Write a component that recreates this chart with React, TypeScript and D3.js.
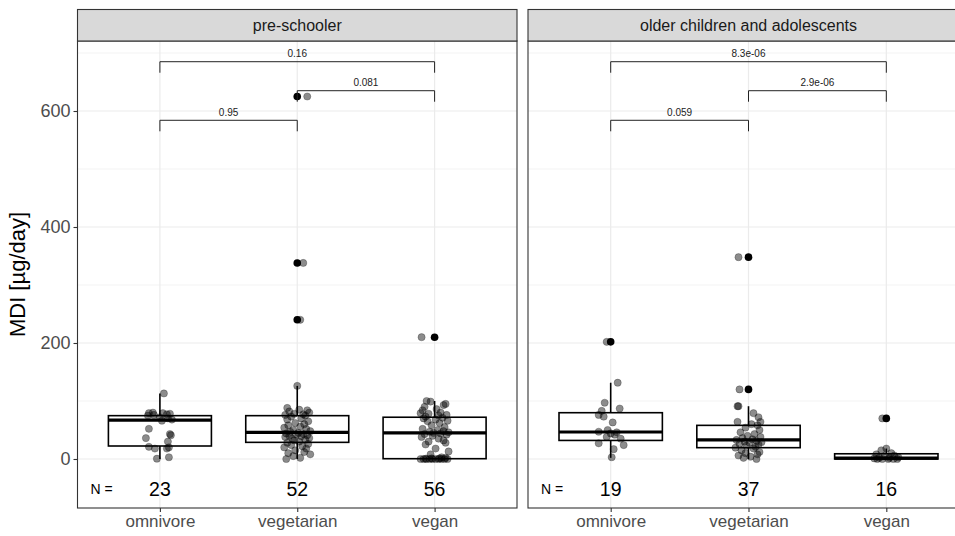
import React, { useEffect, useRef } from "react";
import * as d3 from "d3";

const facets = ["pre-schooler", "older children and adolescents"];
const categories = ["omnivore", "vegetarian", "vegan"];
const counts = [
  [23, 52, 56],
  [19, 37, 16],
];
const yTicks = [0, 200, 400, 600];
const yMinor = [100, 300, 500, 700];

// box stats: [lower whisker, q1, median, q3, upper whisker]
const boxPre = [
  [0, 22.4, 67, 74.7, 113],
  [0, 28.7, 46, 74.7, 126],
  [0, 0.5, 45, 72, 100],
];
const boxOlder = [
  [2, 32, 46.5, 79.8, 131.5],
  [0, 19.5, 32.8, 58, 91],
  [0, 0, 1.5, 9, 18],
];
const outliersPre = [[], [240, 338, 625], [210]];
const outliersOlder = [[202], [120, 348], [70]];

// jittered observations: [value, horizontal jitter in px]
const preOmnivore = [
  [113, 4], [80, -7], [79, -11], [76, -6], [79, 3], [77, 7], [72, 0], [70, 8],
  [68, 12], [75, -12], [66, 2], [78, 10], [52, -11], [43, 10], [36, -14], [41, 11],
  [30, 8], [21, -11], [18, -5], [18, 7], [20, 9], [3, 9], [0.5, -3],
];
const preVegetarian = [
  [625, 10], [338, 6], [240, 3], [126, 0], [88, -10], [85, 2], [84, 10], [82, -8],
  [80, 12], [78, -3], [77, 6], [76, -12], [75, 8],
  [73, -6], [70, 4], [68, -10], [65, 11], [62, -2], [60, 7], [58, -9], [56, 3],
  [54, -13], [52, 9], [50, -4], [48, 13], [47, -7],
  [45, 1], [44, -11], [43, 6], [42, -1], [41, 10], [40, -8], [39, 4], [38, -12],
  [36, 12], [35, -5], [33, 8], [32, -3], [30, 2],
  [28, -10], [26, 11], [24, -6], [22, 5], [20, -13], [18, 9], [15, -2], [12, 7],
  [10, -9], [8, 13], [5, -4], [2, 3], [0, -11],
];
const preVegan = [
  [210, -13], [100, -8], [99, -4], [95, 11], [93, 9], [90, -10], [86, 2], [84, -12],
  [80, 6], [79, -14], [78, -6], [76, 12], [75, 4], [73, -9],
  [71, 8], [70, -11], [68, 1], [66, 13], [65, -7], [62, 5], [58, -3], [55, 10],
  [52, -12], [50, 3], [48, 9], [47, -5], [46, 14], [45, -1],
  [44, 6], [43, -10], [42, 12], [40, -2], [38, -13], [35, 4], [32, 9], [30, -6],
  [28, 11], [25, -9], [18, 1], [13, 14], [8, -4], [3, 7],
  [0, -14], [0, -11], [0, -8], [0, -5], [0, -2], [0, 1], [0, 4], [0, 7],
  [0, 10], [0, 13], [0.5, -9], [1, 5], [1, -3], [2, 11],
];
const olderOmnivore = [
  [202, -4], [131.5, 7], [97, -6], [87, 9], [83, -9], [76, -12], [73, -7], [63, 2],
  [50, -3], [47, -12], [46, 6], [44, 0], [42, 4], [38, -4], [35, 10], [27, -12],
  [24, 13], [17, 3], [3, 1],
];
const olderVegetarian = [
  [348, -10], [120, -9], [91, -11], [91, -10], [79, 5], [72, 10], [64, 12], [64, -11],
  [60, 3], [58, 9], [54, -3], [50, 11], [46, -8], [43, 6], [40, -1], [38, 12],
  [36, -6], [34, 4], [32.8, -12], [31, 8], [30, -4], [29, 13], [28, 1], [26, -9],
  [25, 10], [23, -2], [21, 7], [19.5, -13], [18, 5], [15, -7], [12, 11], [10, -3],
  [8, 9], [6, -10], [4, 2], [2, -5], [0, 8],
];
const olderVegan = [
  [70, -4], [18, 0], [15, -5], [10, 5], [8, -10], [6, 8], [5, -2], [3, 12],
  [2, -7], [2, 3], [1, -12], [0, -9], [0, -4], [0, 2], [0, 7], [0, 11],
];

const comparisons = [[0, 1], [1, 2], [0, 2]];
const pValuesPre = ["0.95", "0.081", "0.16"];
const pValuesOlder = ["0.059", "2.9e-06", "8.3e-06"];

const points = [
  [preOmnivore, preVegetarian, preVegan],
  [olderOmnivore, olderVegetarian, olderVegan],
];
const boxes = [boxPre, boxOlder];
const outliers = [outliersPre, outliersOlder];
const pValues = [pValuesPre, pValuesOlder];

const FONT = "'Liberation Sans', Arial, Helvetica, sans-serif";

export default function App() {
  const ref = useRef<SVGSVGElement>(null);

  useEffect(() => {
    const svg = d3.select(ref.current);
    svg.selectAll("*").remove();

    const top = 41,
      bottom = 508,
      stripTop = 9.5;
    const panels = [
      [77.5, 517],
      [528, 969],
    ];

    const y = d3.scaleLinear().domain([-84.5, 720.7]).range([bottom, top]);
    const bracketY = [584, 635, 685];
    const tickLen = 19;

    panels.forEach(([x0, x1], f) => {
      const x = d3.scalePoint().domain(categories).range([x0, x1]).padding(0.6);
      const g = svg.append("g");

      g.append("rect")
        .attr("x", x0).attr("y", top)
        .attr("width", x1 - x0).attr("height", bottom - top)
        .attr("fill", "white");

      // grid
      g.selectAll(".minor")
        .data(yMinor)
        .enter()
        .append("line")
        .attr("x1", x0).attr("x2", x1)
        .attr("y1", (d) => y(d)).attr("y2", (d) => y(d))
        .attr("stroke", "#ebebeb").attr("stroke-width", 0.6);
      g.selectAll(".major")
        .data(yTicks)
        .enter()
        .append("line")
        .attr("x1", x0).attr("x2", x1)
        .attr("y1", (d) => y(d)).attr("y2", (d) => y(d))
        .attr("stroke", "#ebebeb").attr("stroke-width", 1.2);
      g.selectAll(".vmajor")
        .data(categories)
        .enter()
        .append("line")
        .attr("x1", (d) => x(d)!).attr("x2", (d) => x(d)!)
        .attr("y1", top).attr("y2", bottom)
        .attr("stroke", "#ebebeb").attr("stroke-width", 1.2);

      const bw = x.step() * 0.75;

      // boxplots
      categories.forEach((c, i) => {
        const [lo, q1, med, q3, hi] = boxes[f][i];
        const cx = x(c)!;
        const b = g.append("g").attr("stroke", "black").attr("fill", "none");
        b.append("line")
          .attr("x1", cx).attr("x2", cx)
          .attr("y1", y(hi)).attr("y2", y(q3))
          .attr("stroke-width", 1.6);
        b.append("line")
          .attr("x1", cx).attr("x2", cx)
          .attr("y1", y(q1)).attr("y2", y(lo))
          .attr("stroke-width", 1.6);
        b.append("rect")
          .attr("x", cx - bw / 2).attr("width", bw)
          .attr("y", y(q3)).attr("height", Math.max(0.5, y(q1) - y(q3)))
          .attr("fill", "white").attr("stroke-width", 1.6);
        b.append("line")
          .attr("x1", cx - bw / 2).attr("x2", cx + bw / 2)
          .attr("y1", y(med)).attr("y2", y(med))
          .attr("stroke-width", 3.2);
        g.selectAll(null)
          .data(outliers[f][i])
          .enter()
          .append("circle")
          .attr("cx", cx).attr("cy", (d) => y(d))
          .attr("r", 3.8).attr("fill", "black");
      });

      // jittered points
      categories.forEach((c, i) => {
        g.selectAll(null)
          .data(points[f][i])
          .enter()
          .append("circle")
          .attr("cx", (d) => x(c)! + d[1])
          .attr("cy", (d) => y(d[0]))
          .attr("r", 3.6)
          .attr("fill", "black")
          .attr("fill-opacity", 0.45)
          .attr("stroke", "black")
          .attr("stroke-opacity", 0.3)
          .attr("stroke-width", 0.8);
      });

      // significance brackets
      comparisons.forEach(([a, b], k) => {
        const xa = x(categories[a])!,
          xb = x(categories[b])!;
        const yy = bracketY[k];
        g.append("path")
          .attr("d", d3.line()([
            [xa, y(yy - tickLen)], [xa, y(yy)], [xb, y(yy)], [xb, y(yy - tickLen)],
          ]))
          .attr("fill", "none").attr("stroke", "#222").attr("stroke-width", 1);
        g.append("text")
          .attr("x", (xa + xb) / 2).attr("y", y(yy) - 4.5)
          .attr("text-anchor", "middle")
          .attr("font-family", FONT).attr("font-size", 10)
          .attr("fill", "#222")
          .text(pValues[f][k]);
      });

      // N labels
      g.append("text")
        .attr("x", x0 + 24).attr("y", y(-52))
        .attr("dy", "0.35em").attr("text-anchor", "middle")
        .attr("font-family", FONT).attr("font-size", 14)
        .text("N =");
      g.selectAll(null)
        .data(counts[f])
        .enter()
        .append("text")
        .attr("x", (d, i) => x(categories[i])!)
        .attr("y", y(-52)).attr("dy", "0.35em")
        .attr("text-anchor", "middle")
        .attr("font-family", FONT).attr("font-size", 19.5)
        .text((d) => d);

      // panel border
      g.append("rect")
        .attr("x", x0).attr("y", top)
        .attr("width", x1 - x0).attr("height", bottom - top)
        .attr("fill", "none").attr("stroke", "#333").attr("stroke-width", 1.1);

      // strip
      g.append("rect")
        .attr("x", x0).attr("y", stripTop)
        .attr("width", x1 - x0).attr("height", top - stripTop)
        .attr("fill", "#d9d9d9").attr("stroke", "#333").attr("stroke-width", 1.1);
      g.append("text")
        .attr("x", (x0 + x1) / 2)
        .attr("y", (stripTop + top) / 2).attr("dy", "0.35em")
        .attr("text-anchor", "middle")
        .attr("font-family", FONT).attr("font-size", 16)
        .attr("fill", "#1a1a1a")
        .text(facets[f]);

      // x axis
      const xAxis = g.append("g").attr("transform", `translate(0, ${bottom})`);
      xAxis.call(d3.axisBottom(x).tickSize(4).tickPadding(3));
      xAxis.select(".domain").remove();
      xAxis.selectAll("line").attr("stroke", "#333").attr("stroke-width", 1.1);
      xAxis.selectAll("text")
        .attr("font-family", FONT).attr("font-size", 17)
        .attr("fill", "#4d4d4d");

      if (f === 0) {
        const yAxis = g.append("g").attr("transform", `translate(${x0}, 0)`);
        yAxis.call(d3.axisLeft(y).tickValues(yTicks).tickSize(4).tickPadding(3));
        yAxis.select(".domain").remove();
        yAxis.selectAll("line").attr("stroke", "#333").attr("stroke-width", 1.1);
        yAxis.selectAll("text")
          .attr("font-family", FONT).attr("font-size", 18)
          .attr("fill", "#4d4d4d");
      }
    });

    svg.append("text")
      .attr("transform", `translate(25, ${(top + bottom) / 2}) rotate(-90)`)
      .attr("text-anchor", "middle")
      .attr("font-family", FONT).attr("font-size", 22)
      .text("MDI [µg/day]");
  }, []);

  return (
    <svg
      ref={ref}
      width={955}
      height={536}
      style={{ position: "absolute", left: 0, top: 0, background: "white" }}
    />
  );
}
